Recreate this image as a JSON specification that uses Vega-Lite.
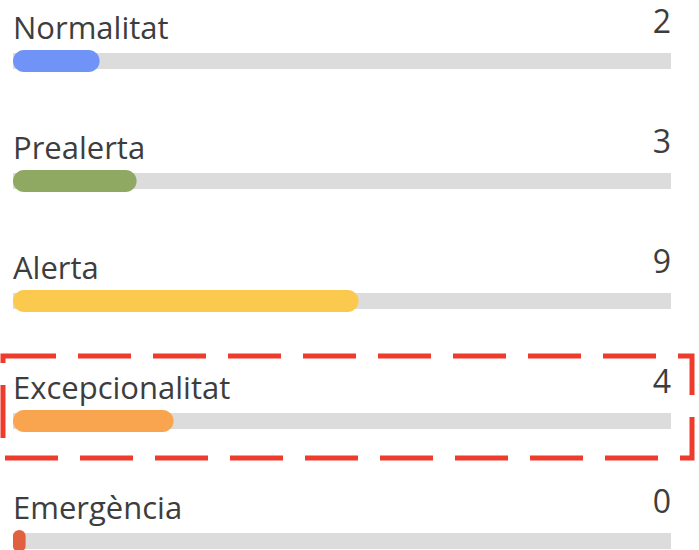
{
  "$schema": "https://vega.github.io/schema/vega-lite/v6.json",
  "width": 699,
  "height": 582,
  "padding": 0,
  "background": "white",
  "config": {"view": {"stroke": null}},
  "data": {
    "values": [
      {"nivell": "Normalitat", "valor": 2},
      {"nivell": "Prealerta", "valor": 3},
      {"nivell": "Alerta", "valor": 9},
      {"nivell": "Excepcionalitat", "valor": 4},
      {"nivell": "Emergència", "valor": 0}
    ]
  },
  "encoding": {
    "y": {
      "field": "nivell",
      "type": "nominal",
      "sort": null,
      "axis": null,
      "scale": {"paddingInner": 0.15, "paddingOuter": 0}
    }
  },
  "layer": [
    {
      "mark": {"type": "bar", "height": 16, "yOffset": 10, "color": "#dcdcdc", "cornerRadius": 0},
      "encoding": {
        "x": {"datum": -0.3405, "type": "quantitative", "scale": {"domain": [-0.665, 18.227], "nice": false, "zero": false}, "axis": null},
        "x2": {"datum": 17.443}
      }
    },
    {
      "mark": {"type": "bar", "height": 22, "yOffset": 10, "cornerRadius": 11},
      "encoding": {
        "x": {"field": "valor", "type": "quantitative"},
        "x2": {"datum": -0.3405},
        "color": {
          "field": "nivell",
          "type": "nominal",
          "legend": null,
          "scale": {
            "domain": ["Normalitat", "Prealerta", "Alerta", "Excepcionalitat", "Emergència"],
            "range": ["#7093f7", "#8fa963", "#fcc94f", "#f9a54f", "#e0603f"]
          }
        }
      }
    },
    {
      "mark": {"type": "text", "align": "left", "baseline": "alphabetic", "yOffset": -12, "font": "Open Sans", "fontSize": 31, "color": "#3d3d3d"},
      "encoding": {
        "x": {"datum": -0.3405, "type": "quantitative"},
        "text": {"field": "nivell"}
      }
    },
    {
      "mark": {"type": "text", "align": "right", "baseline": "alphabetic", "yOffset": -18, "font": "Open Sans", "fontSize": 32, "color": "#3d3d3d"},
      "encoding": {
        "x": {"datum": 17.443, "type": "quantitative"},
        "text": {"field": "valor", "type": "quantitative"}
      }
    },
    {
      "transform": [{"filter": "datum.nivell === 'Excepcionalitat'"}],
      "mark": {"type": "rect", "fill": "white", "fillOpacity": 0, "stroke": "#ee3b2b", "strokeWidth": 5, "strokeDash": [53, 22], "yOffset": -4},
      "encoding": {
        "x": {"datum": -0.611, "type": "quantitative"},
        "x2": {"datum": 18.011}
      }
    }
  ]
}
